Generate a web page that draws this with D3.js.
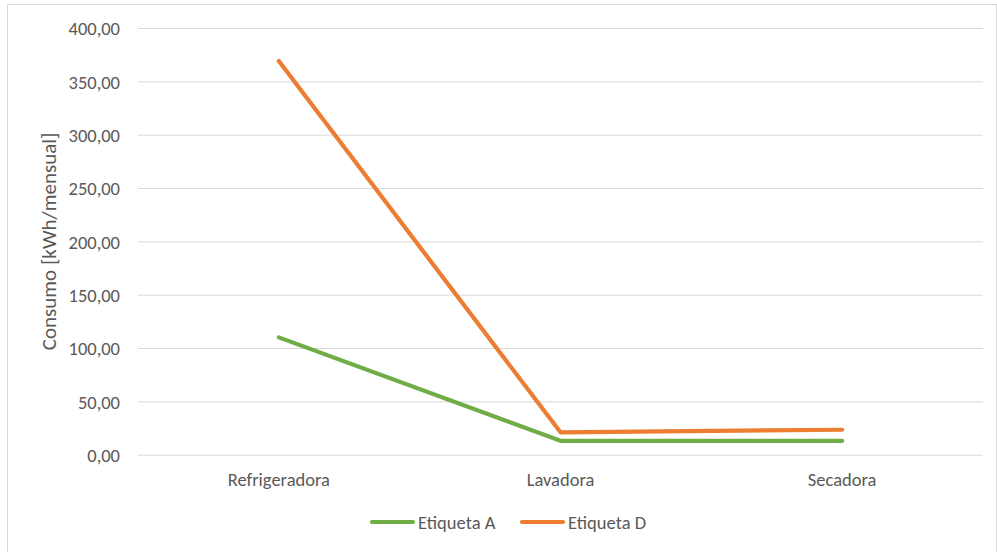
<!DOCTYPE html>
<html>
<head>
<meta charset="utf-8">
<script src="https://cdn.jsdelivr.net/npm/d3@7"></script>
<style>
  html, body { margin: 0; padding: 0; background: #fff; }
  svg text { font-family: Carlito, Calibri, Lato, "Open Sans", sans-serif; fill: #595959; }
</style>
</head>
<body>
<svg id="chart" width="997" height="552"></svg>
<script>
// Monthly consumption per appliance, by energy label
const categories = ["Refrigeradora", "Lavadora", "Secadora"];
const etiquetaA = [110, 13, 13];
const etiquetaD = [369, 21, 23.4];
const yTicks = [0, 50, 100, 150, 200, 250, 300, 350, 400];
const seriesNames = ["Etiqueta A", "Etiqueta D"];
const seriesColors = ["#70AD47", "#ED7D31"];

const svg = d3.select("#chart");
const plot = { left: 138, right: 983, top: 28, bottom: 454.7 };

// chart area frame
svg.append("rect")
  .attr("x", 7.5).attr("y", 4.5)
  .attr("width", 989).attr("height", 560)
  .attr("fill", "#fff").attr("stroke", "#d9d9d9").attr("stroke-width", 1);

const x = d3.scaleBand().domain(categories).range([plot.left, plot.right]);
const y = d3.scaleLinear().domain([0, 400]).range([plot.bottom, plot.top]);

const fmt = v => d3.format(".2f")(v).replace(".", ",");

// horizontal gridlines + value labels
const yAxis = d3.axisLeft(y).tickValues(yTicks).tickFormat(fmt)
  .tickSize(-(plot.right - plot.left)).tickPadding(18);
const gy = svg.append("g").attr("transform", `translate(${plot.left},0)`).call(yAxis);
gy.select(".domain").remove();
gy.selectAll(".tick line").attr("stroke", "#d9d9d9").attr("stroke-width", 1);
gy.selectAll(".tick text").attr("font-size", 18.5).attr("dy", "0.36em");

// category labels
const xAxis = d3.axisBottom(x).tickSize(0);
const gx = svg.append("g").attr("transform", `translate(0,${plot.bottom})`).call(xAxis);
gx.select(".domain").remove();
gx.selectAll(".tick text").attr("font-size", 18.5).attr("y", 31.3).attr("dy", 0);

// axis title
svg.append("text")
  .attr("transform", `translate(56,${(plot.top + plot.bottom) / 2}) rotate(-90)`)
  .attr("text-anchor", "middle")
  .attr("font-size", 21)
  .text("Consumo [kWh/mensual]");

// series lines
const line = d3.line()
  .x((d, i) => x(categories[i]) + x.bandwidth() / 2)
  .y(d => y(d));

[etiquetaA, etiquetaD].forEach((vals, k) => {
  svg.append("path")
    .datum(vals)
    .attr("d", line)
    .attr("fill", "none")
    .attr("stroke", seriesColors[k])
    .attr("stroke-width", 4.2)
    .attr("stroke-linecap", "round")
    .attr("stroke-linejoin", "round");
});

// legend
const legend = svg.append("g").attr("transform", "translate(0,522)");
const legendX = [372, 522];
seriesNames.forEach((name, k) => {
  const g = legend.append("g").attr("transform", `translate(${legendX[k]},0)`);
  g.append("line").attr("x1", 0).attr("x2", 41).attr("y1", 0).attr("y2", 0)
    .attr("stroke", seriesColors[k]).attr("stroke-width", 4.2).attr("stroke-linecap", "round");
  g.append("text").attr("x", 46).attr("y", 7)
    .attr("font-size", 18.5).text(name);
});
</script>
</body>
</html>
